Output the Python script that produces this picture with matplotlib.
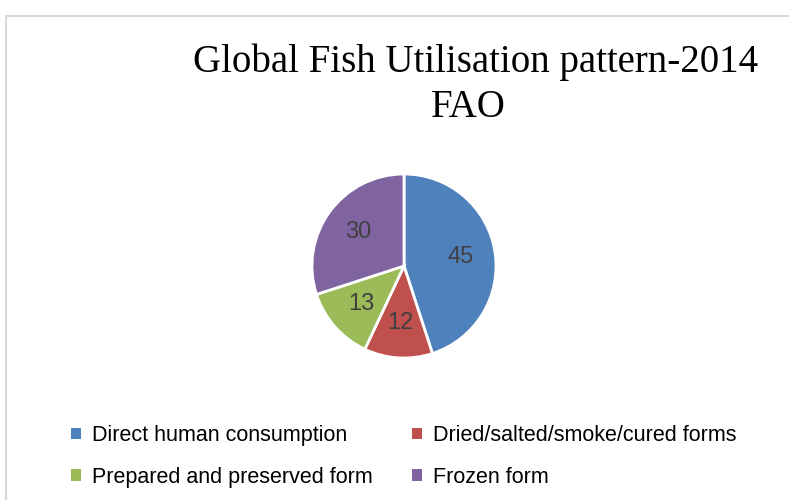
import matplotlib.pyplot as plt
from matplotlib.patches import Rectangle

labels = ['Direct human consumption', 'Dried/salted/smoke/cured forms',
          'Prepared and preserved form', 'Frozen form']
values = [45, 12, 13, 30]
colors = ['#4F81BD', '#C0504D', '#9BBB59', '#8064A2']

W, H = 789, 500
fig = plt.figure(figsize=(W/100, H/100), dpi=100)

# chart border (light grey, top and left visible)
fig.add_artist(Rectangle((6/W, -0.1), 1.2, (H-16)/H + 0.1, transform=fig.transFigure,
                         fill=False, edgecolor='#d9d9d9', linewidth=1.5))

fig.text(476/W, 1-72/H, 'Global Fish Utilisation pattern-2014', ha='center', va='baseline',
         family='Liberation Serif', fontsize=28, color='black')
fig.text(468/W, 1-117/H, 'FAO', ha='center', va='baseline',
         family='Liberation Serif', fontsize=28, color='black')

cx, cy, r = 404, 266, 92
ax = fig.add_axes([(cx-r)/W, (H-cy-r)/H, 2*r/W, 2*r/H])
wedges, texts, autotexts = ax.pie(values, colors=colors, startangle=90, counterclock=False,
                                  autopct=lambda p: '%d' % round(p), pctdistance=0.62,
                                  wedgeprops=dict(edgecolor='white', linewidth=2))
for t in autotexts:
    t.set_family('Liberation Sans')
    t.set_fontsize(17)
    t.set_color('#404040')
ax.set_xlim(-1, 1)
ax.set_ylim(-1, 1)

# legend is filled row by row in the reference
order = [0, 2, 1, 3]
leg = fig.legend([wedges[i] for i in order], [labels[i] for i in order], ncol=2,
                 loc='upper left', bbox_to_anchor=(52/W, 1-406/H),
                 frameon=False, prop={'family': 'Liberation Sans', 'size': 15.5},
                 handlelength=0.45, handleheight=0.45, handletextpad=0.5,
                 columnspacing=1.85, labelspacing=0.95)
for h in leg.legend_handles:
    h.set_edgecolor('none')

fig.savefig('out.png', dpi=100)
